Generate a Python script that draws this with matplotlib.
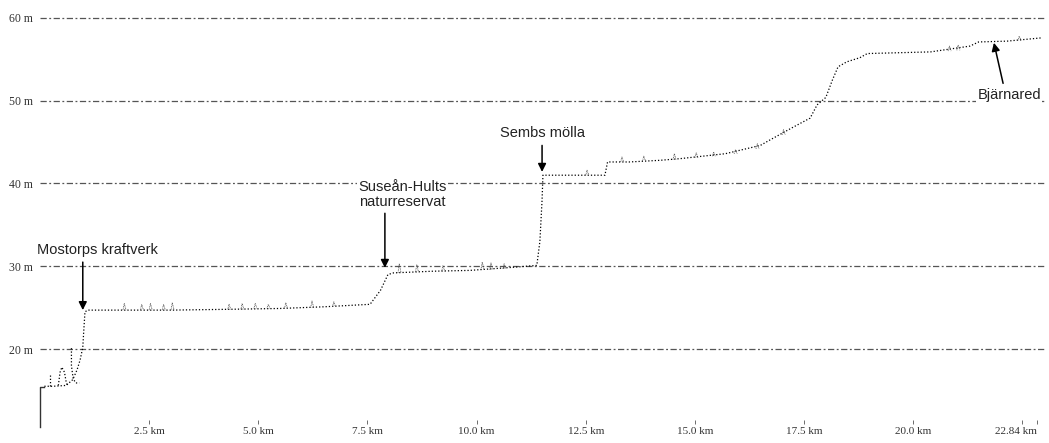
import numpy as np
import matplotlib.pyplot as plt

# Höjdprofil längs ån (km, m)
km = [0.1, 0.3, 0.6, 0.75, 0.85, 0.92, 0.98, 1.0, 1.03, 1.1, 2.0, 3.0, 4.35,
      5.5, 6.5, 7.2, 7.56, 7.8, 7.97, 8.1, 9.0, 9.85, 10.9, 11.38, 11.45,
      11.5, 11.52, 12.0, 12.94, 13.0, 13.5, 14.2, 14.66, 15.7, 16.5, 16.7,
      17.25, 17.64, 17.8, 18.0, 18.15, 18.28, 18.48, 18.78, 18.95, 20.4,
      21.3, 21.5, 22.15, 22.95]
hojd = [15.5, 15.5, 15.6, 16.3, 17.5, 18.7, 20.2, 22.0, 24.5, 24.7, 24.7,
        24.7, 24.8, 24.9, 25.1, 25.3, 25.4, 27.1, 29.0, 29.2, 29.4, 29.5,
        29.9, 30.1, 33.0, 38.0, 41.0, 41.0, 41.0, 42.6, 42.6, 42.8, 43.0,
        43.6, 44.6, 45.2, 46.8, 47.9, 49.5, 50.4, 52.5, 54.1, 54.7, 55.2,
        55.7, 55.9, 56.6, 57.1, 57.2, 57.6]

# startlinje (heldragen)
start_km = [0.0, 0.0, 0.1]
start_m = [10.6, 15.4, 15.4]

# sidospår nära start
gren1_km = [0.23, 0.23]
gren1_m = [15.5, 16.9]
gren2_km = [0.42, 0.46, 0.5, 0.56, 0.6, 0.62]
gren2_m = [15.6, 17.2, 17.8, 17.2, 16.0, 15.7]
gren3_km = [0.72, 0.72, 0.76, 0.82, 0.9]
gren3_m = [20.1, 18.0, 16.4, 15.9, 15.9]

# små utstickare längs profilen (km, bas, topp)
knopp_km = [1.9, 2.3, 2.5, 2.8, 3.0, 4.3, 4.6, 4.9, 5.2, 5.6, 6.2, 6.7,
            8.2, 8.6, 9.2, 10.1, 10.3, 10.6, 12.5, 13.3, 13.8, 14.5, 15.0,
            15.4, 15.9, 16.4, 17.0, 20.8, 21.0, 22.4]
knopp_bas = [24.7, 24.7, 24.7, 24.7, 24.7, 24.8, 24.8, 24.9, 24.9, 24.9,
             25.0, 25.1, 29.2, 29.3, 29.4, 29.6, 29.6, 29.7, 41.0, 42.6,
             42.7, 42.9, 43.1, 43.3, 43.6, 44.2, 45.9, 56.0, 56.1, 57.3]
knopp_topp = [25.5, 25.4, 25.5, 25.4, 25.6, 25.4, 25.5, 25.5, 25.4, 25.6,
              25.8, 25.7, 30.3, 30.2, 30.1, 30.5, 30.4, 30.3, 41.6, 43.2,
              43.3, 43.6, 43.7, 43.8, 44.1, 44.8, 46.5, 56.6, 56.7, 57.8]

yticks = [20, 30, 40, 50, 60]
xticks = [2.5, 5.0, 7.5, 10.0, 12.5, 15.0, 17.5, 20.0, 22.5, 22.84]
xlabels = ['2.5 km', '5.0 km', '7.5 km', '10.0 km', '12.5 km', '15.0 km',
           '17.5 km', '20.0 km', '', '']

# platser: text, textpos, pilpos
platser = [('Mostorps kraftverk', 1.31, 31.96, 0.98, 30.5, 0.98, 24.7),
           ('Suseån-Hults\nnaturreservat', 8.31, 38.7, 7.9, 36.4, 7.9, 29.8),
           ('Sembs mölla', 11.52, 46.1, 11.5, 44.6, 11.5, 41.4),
           ('Bjärnared', 22.2, 50.7, 22.06, 52.1, 21.85, 57.0)]

W, H = 1049, 443
fig = plt.figure(figsize=(W / 100, H / 100), dpi=100)
ax = fig.add_axes([40 / W, 19 / H, 1005 / W, 424 / H])

ax.set_xlim(0, 23.02)
ax.set_ylim(10.94, 62.17)

for y in yticks:
    ax.axhline(y, color='#555555', lw=0.9, dashes=(5, 2, 1.5, 2), zorder=1)

ax.plot(start_km, start_m, color='#333333', lw=1.0, zorder=3, clip_on=False)
prof = dict(color='black', lw=0.9, linestyle=(0, (1, 1.6)), zorder=3)
ax.plot(km, hojd, **prof)
ax.plot(gren1_km, gren1_m, **prof)
ax.plot(gren2_km, gren2_m, **prof)
ax.plot(gren3_km, gren3_m, **prof)
for k, b, t in zip(knopp_km, knopp_bas, knopp_topp):
    ax.plot([k, k + 0.03, k + 0.07], [b, t, b], color='#444444', lw=0.6,
            linestyle=(0, (1, 1)), zorder=3)

for txt, tx, ty, ax0, ay0, ax1, ay1 in platser:
    ax.text(tx, ty, txt, ha='center', va='center', fontsize=10.5,
            family='Liberation Sans', color='#222222', linespacing=1.1,
            bbox=dict(facecolor='white', edgecolor='none', pad=1))
    ax.annotate('', xy=(ax1, ay1), xytext=(ax0, ay0),
                arrowprops=dict(arrowstyle='-|>', color='black', lw=1.1,
                                mutation_scale=12, shrinkA=0, shrinkB=0))

ax.set_yticks(yticks)
ax.set_yticklabels([f'{y} m' for y in yticks], family='Liberation Serif',
                   fontsize=8.5, color='#333333')
ax.set_xticks(xticks)
ax.set_xticklabels(xlabels, family='Liberation Serif', fontsize=8,
                   color='#333333')
ax.tick_params(axis='y', length=0, pad=5)
ax.tick_params(axis='x', direction='in', length=3, width=0.6,
               color='#555555', pad=2)
ax.annotate('22.84 km', xy=(22.84, 0), xycoords=('data', 'axes fraction'),
            xytext=(0, -2), textcoords='offset points', ha='right', va='top',
            family='Liberation Serif', fontsize=8, color='#333333')
for s in ax.spines.values():
    s.set_visible(False)

fig.savefig('out.png', dpi=100)
